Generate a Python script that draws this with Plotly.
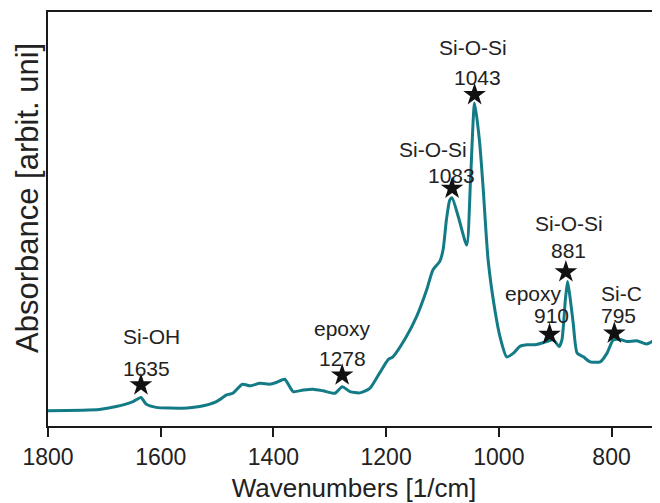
import plotly.graph_objects as go

# ---- spectrum data (wavenumber [1/cm], absorbance [arb. units]) ----
wavenumber = [1800, 1709, 1679, 1649, 1635, 1626, 1608, 1561, 1531, 1501, 1483, 1472,
              1455, 1442, 1424, 1407, 1395, 1380, 1365, 1347, 1330, 1312, 1291, 1278,
              1264, 1247, 1229, 1212, 1196, 1188, 1164, 1146, 1128, 1117, 1105, 1099,
              1093, 1087, 1083, 1072, 1057, 1050, 1043, 1034, 1028, 1019, 1007, 998,
              986, 974, 963, 951, 933, 915, 903, 893, 888, 882, 878, 873, 868, 861,
              850, 838, 820, 808, 797, 785, 773, 755, 738, 714]
absorbance = [0.037, 0.040, 0.047, 0.059, 0.069, 0.053, 0.045, 0.043, 0.047, 0.059, 0.075, 0.079,
              0.101, 0.097, 0.103, 0.101, 0.105, 0.113, 0.083, 0.087, 0.089, 0.085, 0.079, 0.095,
              0.083, 0.080, 0.091, 0.127, 0.161, 0.167, 0.216, 0.264, 0.329, 0.377, 0.397, 0.425,
              0.498, 0.546, 0.551, 0.506, 0.437, 0.602, 0.780, 0.684, 0.578, 0.401, 0.280, 0.216,
              0.167, 0.176, 0.192, 0.196, 0.197, 0.204, 0.208, 0.192, 0.208, 0.304, 0.349, 0.304,
              0.248, 0.176, 0.167, 0.155, 0.155, 0.176, 0.208, 0.209, 0.204, 0.206, 0.198, 0.216]

# ---- marked peaks ----
peak_positions = [1635, 1278, 1083, 1043, 910, 881, 795]
peak_names = ["Si-OH", "epoxy", "Si-O-Si", "Si-O-Si", "epoxy", "Si-O-Si", "Si-C"]
star_heights = [0.099, 0.123, 0.574, 0.800, 0.221, 0.372, 0.224]
name_x = [1617, 1277, 1117, 1046, 938, 875, 782]
name_y = [0.216, 0.236, 0.667, 0.915, 0.321, 0.488, 0.320]
number_x = [1626, 1277, 1084, 1037, 906, 877, 787]
number_y = [0.139, 0.164, 0.606, 0.843, 0.268, 0.425, 0.266]

x_ticks = [1800, 1600, 1400, 1200, 1000, 800]

FONT = "Liberation Sans, Arial, sans-serif"
TXT = "#222222"

fig = go.Figure()
fig.add_trace(go.Scatter(
    x=wavenumber, y=absorbance, mode="lines",
    line=dict(color="#137b86", width=3, shape="spline", smoothing=0.6),
    hoverinfo="skip", showlegend=False))
fig.add_trace(go.Scatter(
    x=peak_positions, y=star_heights, mode="markers",
    marker=dict(symbol="star", size=17, color="#111111"),
    showlegend=False))

annotations = []
for nm, nx, ny in zip(peak_names, name_x, name_y):
    annotations.append(dict(x=nx, y=ny, text=nm, showarrow=False, xanchor="center",
                            yanchor="middle", font=dict(family=FONT, size=21, color=TXT)))
for pos, px_, py_ in zip(peak_positions, number_x, number_y):
    annotations.append(dict(x=px_, y=py_, text=str(pos), showarrow=False, xanchor="center",
                            yanchor="middle", font=dict(family=FONT, size=21, color=TXT)))
annotations.append(dict(x=-0.0335, y=0.552, xref="paper", yref="paper",
                        text="Absorbance [arbit. uni]", textangle=-90, showarrow=False,
                        xanchor="center", yanchor="middle", borderpad=0,
                        font=dict(family=FONT, size=31, color=TXT)))

# the page body adds an 8 px margin, so the figure is sized/offset to fit the 660x503 window
fig.update_layout(
    width=652, height=495,
    margin=dict(l=40, r=0, t=4, b=77),
    paper_bgcolor="white", plot_bgcolor="white",
    annotations=annotations,
    xaxis=dict(range=[1800, 714], tickvals=x_ticks, ticktext=[str(t) for t in x_ticks],
               automargin=False,
               showgrid=False, zeroline=False, showline=True, linecolor="#1a1a1a",
               linewidth=2, mirror=True, ticks="outside", ticklen=9, tickwidth=2,
               tickcolor="#1a1a1a", tickfont=dict(family=FONT, size=23, color=TXT),
               title=dict(text="Wavenumbers [1/cm]", standoff=10,
                          font=dict(family=FONT, size=26, color=TXT))),
    yaxis=dict(range=[0, 1], automargin=False, showgrid=False, zeroline=False, showline=True,
               linecolor="#1a1a1a", linewidth=2, showticklabels=False, ticks=""),
)

fig.write_html("out.html")
